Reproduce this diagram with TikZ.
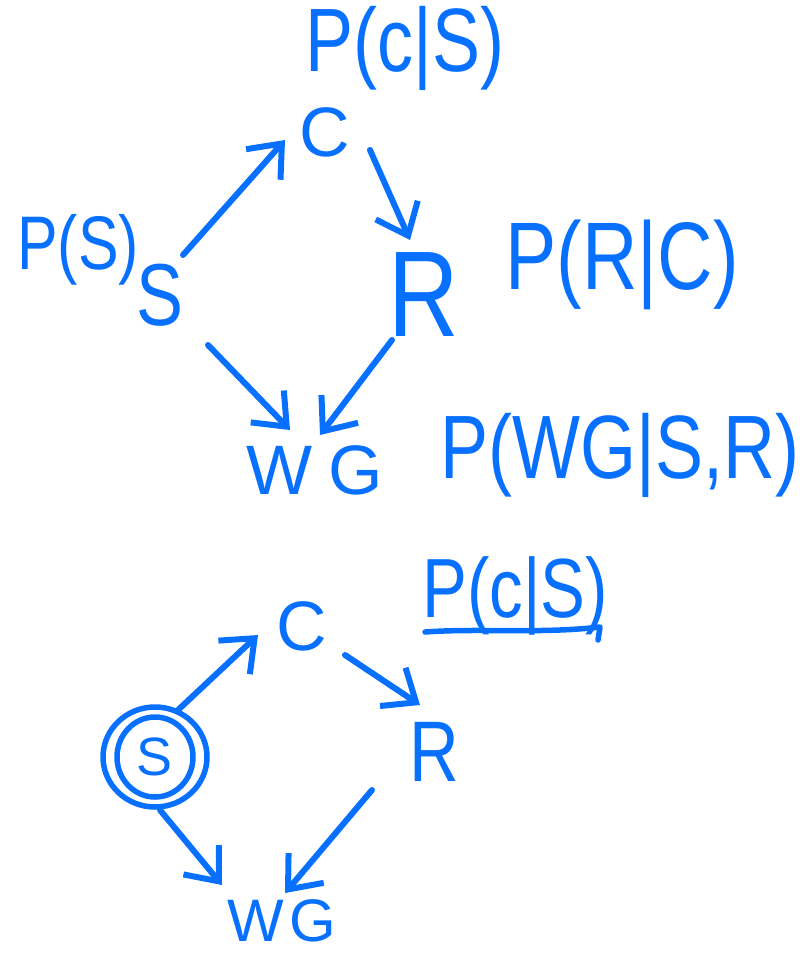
\documentclass[tikz,border=0pt]{standalone}
\usepackage{fontspec}
\setmainfont{Liberation Sans}
\newfontfamily\narrowhand[FakeStretch=0.8]{Liberation Sans}
\usetikzlibrary{arrows.meta,calc}
\definecolor{ink}{RGB}{8,112,255}
\newcommand{\fs}[1]{\fontsize{#1}{#1}\selectfont}
\tikzset{
  lbl/.style={text=ink, inner sep=0pt, anchor=center},
  arr/.style={draw=ink, line width=6pt, line cap=round, line join=round,
    -{Straight Barb[length=28pt,width=46pt]}},
  pen/.style={draw=ink, line width=5.5pt, line cap=round, line join=round},
}
\begin{document}
\begin{tikzpicture}[x=1pt,y=-1pt]
\useasboundingbox (0,0) rectangle (807,956);

% upper network
\node[lbl, font=\fs{70}] (C1) at (325,132) {C};
\node[lbl, font=\narrowhand\fs{88}] (S1) at (160,295) {S};
\node[lbl, font=\narrowhand\fs{122}] (R1) at (424,295) {R};
\node[lbl, font=\fs{70}] (W1) at (315,470) {W\kern16pt G};

\node[lbl, font=\narrowhand\fs{90}] (pC1) at (405,48) {P(c|S)};
\node[lbl, font=\narrowhand\fs{76}] (pS1) at (78,250) {P(S)};
\node[lbl, font=\narrowhand\fs{96}] (pR1) at (622,265) {P(R|C)};
\node[lbl, font=\narrowhand\fs{90}] (pW1) at (620,455) {P(WG|S,R)};

\draw[arr] ($(S1.center)+(23,-40)$) -- ($(C1.center)+(-40,8)$);
\draw[arr] ($(C1.center)+(45,18)$) -- ($(R1.center)+(-14,-55)$);
\draw[arr] ($(S1.center)+(48,50)$) -- ($(W1.center)+(-25,-40)$);
\draw[arr] ($(R1.center)+(-32,45)$) -- ($(W1.center)+(5,-35)$);

% lower network, S observed
\node[lbl, font=\fs{70}] (C2) at (302,626) {C};
\node[lbl, font=\fs{54}] (S2) at (155,757) {S};
\node[lbl, font=\narrowhand\fs{86}] (R2) at (434,752) {R};
\node[lbl, font=\fs{60}] (W2) at (282,921) {W\kern6pt G};

\node[lbl, font=\narrowhand\fs{84}] (pC2) at (515,596) {P(c|S)};

\draw[pen] (S2.center) circle[x radius=52pt, y radius=50pt];
\draw[pen] (S2.center) circle[x radius=38pt, y radius=40pt];
\draw[pen] (425,632) .. controls (480,628) and (540,634) .. (600,627) -- (598,640);

\draw[arr] ($(S2.center)+(23,-47)$) -- ($(C2.center)+(-44,9)$);
\draw[arr] ($(C2.center)+(43,29)$) -- ($(R2.center)+(-14,-47)$);
\draw[arr] ($(S2.center)+(5,53)$) -- ($(W2.center)+(-60,-36)$);
\draw[arr] ($(R2.center)+(-62,38)$) -- ($(W2.center)+(3,-28)$);
\end{tikzpicture}
\end{document}
